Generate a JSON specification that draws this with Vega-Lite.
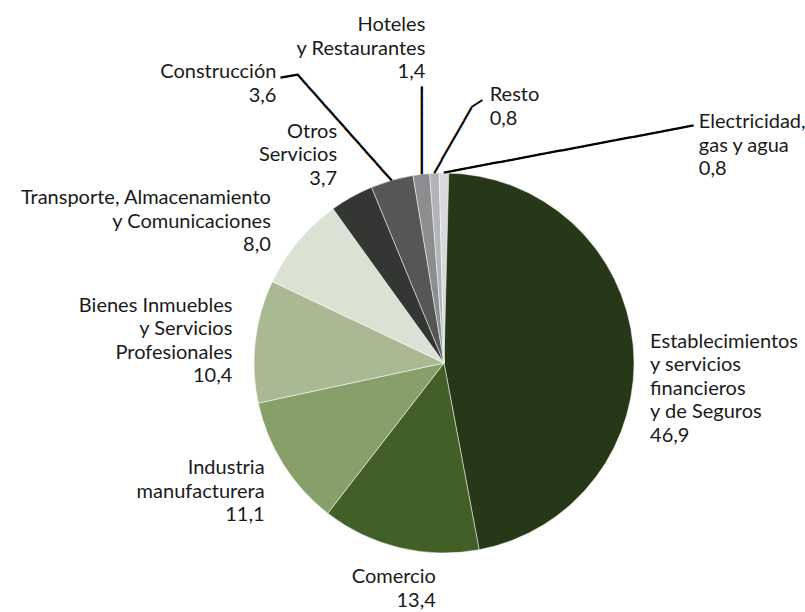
{
  "$schema": "https://vega.github.io/schema/vega-lite/v6.json",
  "autosize": {"type": "none"},
  "padding": {"left": 83, "top": 114, "right": 0, "bottom": 0},
  "width": 722,
  "height": 498,
  "background": "white",
  "config": {
    "view": {"stroke": null},
    "text": {"font": "Lato", "fontSize": 20, "lineHeight": 23.5, "color": "#1a1a1a"}
  },
  "data": {
    "values": [
      {"sector": "Establecimientos\ny servicios\nfinancieros\ny de Seguros", "valor": 46.9, "orden": 1},
      {"sector": "Comercio", "valor": 13.4, "orden": 2},
      {"sector": "Industria\nmanufacturera", "valor": 11.1, "orden": 3},
      {"sector": "Bienes Inmuebles\ny Servicios\nProfesionales", "valor": 10.4, "orden": 4},
      {"sector": "Transporte, Almacenamiento\ny Comunicaciones", "valor": 8.0, "orden": 5},
      {"sector": "Otros\nServicios", "valor": 3.7, "orden": 6},
      {"sector": "Construcción", "valor": 3.6, "orden": 7},
      {"sector": "Hoteles\ny Restaurantes", "valor": 1.4, "orden": 8},
      {"sector": "Resto", "valor": 0.8, "orden": 9},
      {"sector": "Electricidad,\ngas y agua", "valor": 0.8, "orden": 10}
    ]
  },
  "transform": [
    {"stack": "valor", "groupby": [], "sort": [{"field": "orden", "order": "ascending"}], "as": ["v0", "v1"]},
    {"calculate": "(datum.v0 + datum.v1) / 2", "as": "medio"},
    {"calculate": "datum.sector + '\\n' + replace(format(datum.valor, '.1f'), '.', ',')", "as": "etiqueta"}
  ],
  "layer": [
    {
      "mark": {"type": "arc", "outerRadius": 190, "stroke": "#ffffff", "strokeWidth": 0.5},
      "encoding": {
        "theta": {"field": "v0", "type": "quantitative", "stack": null},
        "theta2": {"field": "v1"},
        "color": {
          "field": "orden",
          "type": "ordinal",
          "legend": null,
          "scale": {
            "domain": [1, 2, 3, 4, 5, 6, 7, 8, 9, 10],
            "range": ["#263818", "#425f27", "#87a06a", "#a9b993", "#dbe2d3", "#333633", "#545753", "#8b8d8f", "#b2b4b8", "#d8d9dc"]
          }
        }
      }
    },
    {
      "transform": [{"filter": "datum.orden === 1"}],
      "mark": {"type": "text", "radius": 190, "align": "left", "baseline": "alphabetic", "lineBreak": "\n", "dx": 16.9, "dy": 2.5},
      "encoding": {"theta": {"field": "medio", "type": "quantitative", "stack": null}, "text": {"field": "etiqueta", "type": "nominal"}}
    },
    {
      "transform": [{"filter": "datum.orden === 2"}],
      "mark": {"type": "text", "radius": 190, "align": "right", "baseline": "alphabetic", "lineBreak": "\n", "dx": 36.3, "dy": 35.5},
      "encoding": {"theta": {"field": "medio", "type": "quantitative", "stack": null}, "text": {"field": "etiqueta", "type": "nominal"}}
    },
    {
      "transform": [{"filter": "datum.orden === 3"}],
      "mark": {"type": "text", "radius": 190, "align": "right", "baseline": "alphabetic", "lineBreak": "\n", "dx": -18.7, "dy": 9.7},
      "encoding": {"theta": {"field": "medio", "type": "quantitative", "stack": null}, "text": {"field": "etiqueta", "type": "nominal"}}
    },
    {
      "transform": [{"filter": "datum.orden === 4"}],
      "mark": {"type": "text", "radius": 190, "align": "right", "baseline": "alphabetic", "lineBreak": "\n", "dx": -22.9, "dy": -29.2},
      "encoding": {"theta": {"field": "medio", "type": "quantitative", "stack": null}, "text": {"field": "etiqueta", "type": "nominal"}}
    },
    {
      "transform": [{"filter": "datum.orden === 5"}],
      "mark": {"type": "text", "radius": 190, "align": "right", "baseline": "alphabetic", "lineBreak": "\n", "dx": -27.2, "dy": -37.2},
      "encoding": {"theta": {"field": "medio", "type": "quantitative", "stack": null}, "text": {"field": "etiqueta", "type": "nominal"}}
    },
    {
      "transform": [{"filter": "datum.orden === 6"}],
      "mark": {"type": "text", "radius": 190, "align": "right", "baseline": "alphabetic", "lineBreak": "\n", "dx": -14.6, "dy": -59.1},
      "encoding": {"theta": {"field": "medio", "type": "quantitative", "stack": null}, "text": {"field": "etiqueta", "type": "nominal"}}
    },
    {
      "transform": [{"filter": "datum.orden === 7"}],
      "mark": {"type": "text", "radius": 190, "align": "right", "baseline": "alphabetic", "lineBreak": "\n", "dx": -115.6, "dy": -102.1},
      "encoding": {"theta": {"field": "medio", "type": "quantitative", "stack": null}, "text": {"field": "etiqueta", "type": "nominal"}}
    },
    {
      "transform": [{"filter": "datum.orden === 8"}],
      "mark": {"type": "text", "radius": 190, "align": "right", "baseline": "alphabetic", "lineBreak": "\n", "dx": 4.0, "dy": -143.3},
      "encoding": {"theta": {"field": "medio", "type": "quantitative", "stack": null}, "text": {"field": "etiqueta", "type": "nominal"}}
    },
    {
      "transform": [{"filter": "datum.orden === 9"}],
      "mark": {"type": "text", "radius": 190, "align": "left", "baseline": "alphabetic", "lineBreak": "\n", "dx": 55.3, "dy": -71.8},
      "encoding": {"theta": {"field": "medio", "type": "quantitative", "stack": null}, "text": {"field": "etiqueta", "type": "nominal"}}
    },
    {
      "transform": [{"filter": "datum.orden === 10"}],
      "mark": {"type": "text", "radius": 190, "align": "left", "baseline": "alphabetic", "lineBreak": "\n", "dx": 254.8, "dy": -44.8},
      "encoding": {"theta": {"field": "medio", "type": "quantitative", "stack": null}, "text": {"field": "etiqueta", "type": "nominal"}}
    },
    {
      "transform": [{"filter": "datum.orden === 7"}],
      "mark": {"type": "text", "radius": 190, "font": "DejaVu Sans", "fontSize": 13.15, "color": "#000000", "align": "left", "baseline": "middle", "angle": 228.38, "text": "━━━━━━━━━━━━━━━━━━"},
      "encoding": {"theta": {"field": "medio", "type": "quantitative", "stack": null}}
    },
    {
      "transform": [{"filter": "datum.orden === 7"}],
      "mark": {"type": "text", "radius": 190, "font": "DejaVu Sans", "fontSize": 14.4, "color": "#000000", "align": "left", "baseline": "middle", "angle": 170, "dx": 74.68, "dy": 121.37, "text": "━━"},
      "encoding": {"theta": {"field": "medio", "type": "quantitative", "stack": null}}
    },
    {
      "transform": [{"filter": "datum.orden === 8"}],
      "mark": {"type": "text", "radius": 190, "font": "DejaVu Sans", "fontSize": 13.29, "color": "#000000", "align": "right", "baseline": "middle", "angle": 90, "text": "━━━━━━━━━━━"},
      "encoding": {"theta": {"field": "medio", "type": "quantitative", "stack": null}}
    },
    {
      "transform": [{"filter": "datum.orden === 9"}],
      "mark": {"type": "text", "radius": 190, "font": "DejaVu Sans", "fontSize": 12.52, "color": "#000000", "align": "left", "baseline": "middle", "angle": 299.65, "text": "━━━━━━━━━━"},
      "encoding": {"theta": {"field": "medio", "type": "quantitative", "stack": null}}
    },
    {
      "transform": [{"filter": "datum.orden === 9"}],
      "mark": {"type": "text", "radius": 190, "font": "DejaVu Sans", "fontSize": 10.8, "color": "#000000", "align": "left", "baseline": "middle", "angle": 327.53, "dx": 66.67, "dy": -35.26, "text": "━━"},
      "encoding": {"theta": {"field": "medio", "type": "quantitative", "stack": null}}
    },
    {
      "transform": [{"filter": "datum.orden === 10"}],
      "mark": {"type": "text", "radius": 190, "font": "DejaVu Sans", "fontSize": 13.19, "color": "#000000", "align": "left", "baseline": "middle", "angle": 349.33, "text": "━━━━━━━━━━━━━━━━━━━━━━━━━━━━━━━━"},
      "encoding": {"theta": {"field": "medio", "type": "quantitative", "stack": null}}
    }
  ]
}
